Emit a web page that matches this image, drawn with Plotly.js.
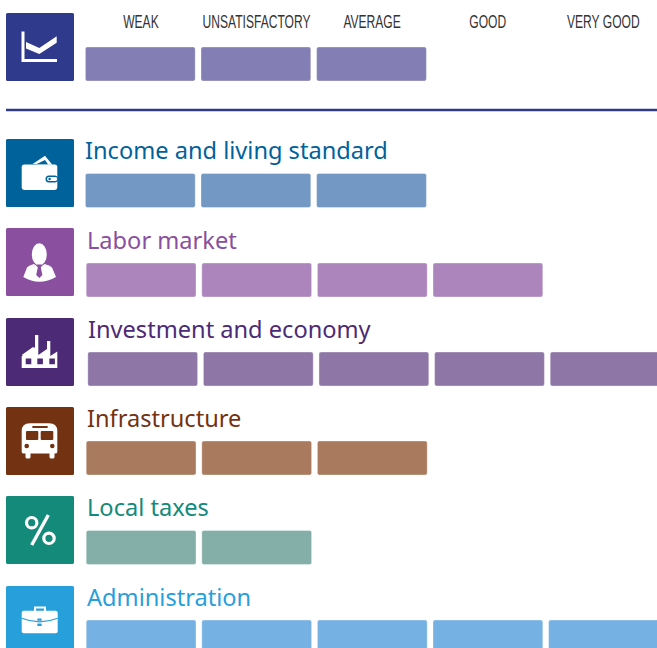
<!DOCTYPE html>
<html><head><meta charset="utf-8">
<script src="https://cdn.plot.ly/plotly-3.0.1.min.js"></script>
<style>html,body{margin:0;padding:0;background:#fff;overflow:hidden}#c{width:657px;height:648px}</style>
</head><body><div id="c"></div>
<script>
// ---- data ----
const levels = ["WEAK","UNSATISFACTORY","AVERAGE","GOOD","VERY GOOD"];
const categories = ["Overall","Income and living standard","Labor market","Investment and economy","Infrastructure","Local taxes","Administration"];
const scores = [3,3,4,5,3,2,5];

// ---- style ----
const W=657,H=648,TOP=33,LEFT=85.4,STEP=115.6,BARW=109.8,BARH=34;
const iconColors=["#303A8C","#00629B","#8A4F9E","#4C2A75","#733212","#148A7A","#279FDB"];
const barColors =["#837EB3","#7298C3","#AC85BC","#8E76A6","#AA7A5E","#84AFA8","#75B1E2"];
const rowCenter=[64,190.5,280,369,458,547.5,637];
const iconTop=[13,139,228,318,407,496,586];
const titleY=[null,150,240,329,418,507,597];
const rowShift=[0,0,0.8,2.4,0.8,0.8,0.8];

const traces=categories.map((name,r)=>{
  const lv=levels.slice(0,scores[r]);
  return {type:"bar",orientation:"h",name:name,
    x:lv.map(()=>BARW/STEP),
    base:lv.map((_,i)=>i+rowShift[r]/STEP),
    y:lv.map(()=>rowCenter[r]),
    width:BARH,text:lv,textposition:"none",hoverinfo:"text+name",
    marker:{color:barColors[r],cornerradius:2,line:{color:"rgba(255,255,255,0.35)",width:1}}};
});

// ---- icon helpers: pixel space to paper space ----
const px=x=>(x/W).toFixed(5), py=y=>(1-(y-TOP)/(H-TOP)).toFixed(5);
function P(d,ox,oy){return d.replace(/(-?[\d.]+),(-?[\d.]+)/g,(m,a,b)=>px(+a+ox)+","+py(+b+oy));}
function rr(x0,y0,x1,y1,r){return `M${x0+r},${y0} L${x1-r},${y0} Q${x1},${y0} ${x1},${y0+r} L${x1},${y1-r} Q${x1},${y1} ${x1-r},${y1} L${x0+r},${y1} Q${x0},${y1} ${x0},${y1-r} L${x0},${y0+r} Q${x0},${y0} ${x0+r},${y0} Z`;}
const shapes=[];
function fill(d,ox,oy,c){shapes.push({type:"path",xref:"paper",yref:"paper",path:P(d,ox,oy),fillcolor:c,line:{width:0}});}
function stroke(d,ox,oy,c,w){shapes.push({type:"path",xref:"paper",yref:"paper",path:P(d,ox,oy),line:{color:c,width:w}});}
function circ(cx,cy,r,ox,oy,f,lc,lw){shapes.push({type:"circle",xref:"paper",yref:"paper",
  x0:px(cx-r+ox),x1:px(cx+r+ox),y0:py(cy+r+oy),y1:py(cy-r+oy),fillcolor:f,line:{color:lc||f,width:lw||0}});}

const WH="#ffffff";
iconTop.forEach((t,r)=>fill(rr(0,0,68,68,1.5),6,t,iconColors[r]));
// chart
(function(o,t,c){
  stroke("M17,18.5 L17,47.5 L51,47.5",o,t,WH,3);
  fill("M20,29 L33.3,35 L50.7,23.3 L50.7,29.8 L33.3,41 L20,35.5 Z",o,t,WH);
})(6,iconTop[0]);
// wallet
(function(o,t,c){
  fill("M26.7,25 L39,16.7 L46.3,25.7 Z",o,t,WH);
  fill("M30.7,25 L39,21 L42.3,25.7 Z",o,t,c);
  fill(rr(15.7,25.5,51.3,51,2.5),o,t,WH);
  fill(rr(39.5,36.4,52,43.6,3.5),o,t,c);
  fill(rr(41,38,51.3,42,2),o,t,WH);
  circ(43.6,40,1.2,o,t,c);
})(6,iconTop[1],iconColors[1]);
// person
(function(o,t,c){
  shapes.push({type:"circle",xref:"paper",yref:"paper",x0:px(25.8+o),x1:px(40.8+o),y0:py(37.5+t),y1:py(15.3+t),fillcolor:WH,line:{width:0}});
  fill("M17.3,49 L21,39.5 Q23,37.5 28,36 L33.3,40 L38.6,36 Q44,37.5 46,39.5 L50,49 Q42,53.7 33.3,53.7 Q25,53.7 17.3,49 Z",o,t,WH);
  fill("M30.6,36.6 L36,36.6 L34.8,39.6 L36.4,47 L33.3,50 L30.2,47 L31.8,39.6 Z",o,t,c);
})(6,iconTop[2],iconColors[2]);
// factory
(function(o,t,c){
  fill("M15.7,50 L15.7,38 L27,29.5 L29,29.5 L29,17 L32.3,17 L32.3,37 L41,31 L41,23 L44.3,23 L44.3,38 L51.3,33.5 L51.3,50 Z",o,t,WH);
  fill("M15.7,37 L27,29 L29,37 Z",o,t,WH);
  [19.7,31.3,43.3].forEach(x=>fill(rr(x,40.4,x+5.6,46.2,0.3),o,t,c));
})(6,iconTop[3],iconColors[3]);
// bus
(function(o,t,c){
  fill(rr(19.5,44,24.5,51.5,1.5),o,t,WH);
  fill(rr(43.5,44,48.5,51.5,1.5),o,t,WH);
  fill("M15.7,24 Q15.7,16.3 24,16.3 L43,16.3 Q51.3,16.3 51.3,24 L51.3,45 Q51.3,46.5 49,46.5 L18,46.5 Q15.7,46.5 15.7,45 Z",o,t,WH);
  fill(rr(26.3,19,41.7,21,0.5),o,t,c);
  fill(rr(20,24,32.3,33,1),o,t,c);
  fill(rr(34.7,24,47.3,33,1),o,t,c);
  circ(20.7,39,2.3,o,t,c);
  circ(46.3,39,2.3,o,t,c);
})(6,iconTop[4],iconColors[4]);
// percent
(function(o,t,c){
  circ(25.7,26.7,5.2,o,t,"rgba(0,0,0,0)",WH,3.2);
  circ(43,42.3,5.2,o,t,"rgba(0,0,0,0)",WH,3.2);
  stroke("M42.3,19 L25.7,49",o,t,WH,3.4);
})(6,iconTop[5],iconColors[5]);
// briefcase
(function(o,t,c){
  stroke("M29,25 L29,21.5 L39,21.5 L39,25",o,t,WH,2);
  fill(rr(15.7,24.7,51.7,47.3,2),o,t,WH);
  stroke("M15.7,32.3 Q33.7,39.5 51.7,32.3",o,t,c,1.2);
  fill(rr(31.3,32.5,35.7,34.8,0.5),o,t,c);
  fill(rr(31.3,37.5,35.7,40,0.5),o,t,c);
})(6,iconTop[6],iconColors[6]);
// separator
stroke("M6,110 L657,110",0,0,"#303A8C",2.6);

const titleX=[null,84.5,86.5,87.5,86.5,86.5,87];
const annotations=categories.map((name,r)=>r===0?null:({
  xref:"paper",yref:"y",x:titleX[r]/W,y:titleY[r],text:name,showarrow:false,
  xanchor:"left",yanchor:"middle",xshift:-2,
  font:{family:"'Noto Sans',sans-serif",size:23.6,color:iconColors[r]}
})).filter(Boolean);

Plotly.newPlot("c",traces,{
  width:W,height:H,margin:{l:0,r:0,t:TOP,b:0,pad:0},
  paper_bgcolor:"#fff",plot_bgcolor:"#fff",
  barmode:"overlay",showlegend:false,
  xaxis:{side:"top",range:[-LEFT/STEP,(W-LEFT)/STEP],tickmode:"array",
    tickvals:levels.map((_,i)=>i+0.48),ticktext:levels,ticklabeloverflow:"allow",
    showgrid:false,zeroline:false,showline:false,ticklen:0,tickangle:0,fixedrange:true,
    tickfont:{family:"'Liberation Sans',sans-serif",size:19,color:"#333333"}},
  yaxis:{range:[H,TOP],visible:false,fixedrange:true},
  shapes:shapes,annotations:annotations
},{displayModeBar:false,responsive:false}).then(gd=>{
  // the reference labels are set in a condensed face: narrow the real tick text about its centre
  gd.querySelectorAll(".xtick text").forEach(t=>{
    const b=t.getBBox(), cx=b.x+b.width/2, cur=t.getAttribute("transform")||"";
    t.setAttribute("transform",`${cur} translate(${cx},0) scale(0.635,1) translate(${-cx},0)`);
  });
});
</script></body></html>
